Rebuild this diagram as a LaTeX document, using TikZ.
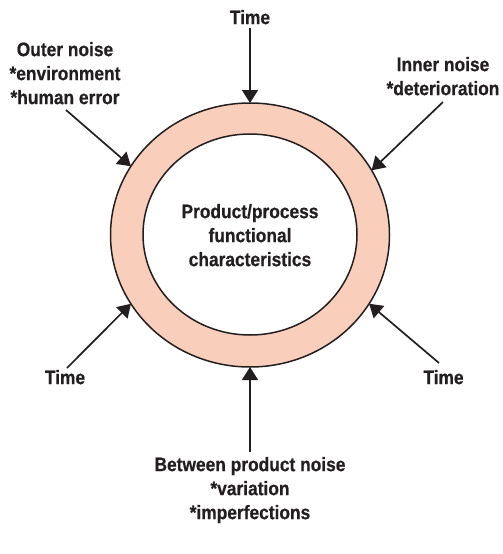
\documentclass[tikz,border=0pt]{standalone}
\usepackage{fontspec}
\setmainfont{Liberation Sans}[FakeStretch=0.89,FakeBold=0.6]
\usetikzlibrary{arrows.meta,shapes.geometric}
\definecolor{ringfill}{HTML}{F9CEBB}
\definecolor{ink}{HTML}{231F20}
\begin{document}
\begin{tikzpicture}[x=1pt,y=-1pt,
  lbl/.style={align=center,inner sep=0pt,outer sep=0pt,anchor=north,text=ink,
    font=\fontsize{19.5}{24}\selectfont\bfseries},
  arr/.style={draw=ink,line width=1.7pt,-{Triangle[length=13pt,width=16pt]}},
  ringline/.style={draw=ink,line width=1.5pt}]
\useasboundingbox (0,0) rectangle (503,554);
\node[ellipse,ringline,fill=ringfill,minimum width=279pt,minimum height=264pt,inner sep=0pt,outer sep=0pt] (outer) at (250,235) {};
\node[ellipse,ringline,fill=white,minimum width=214pt,minimum height=201pt,inner sep=0pt,outer sep=0pt] (inner) at (250,234.5) {};
\node[lbl] (center) at (250,204) {Product/process\\functional\\characteristics};
\node[lbl] (timeT) at (250,10) {Time};
\node[lbl] (outern) at (65,42) {Outer noise\\*environment\\*human error};
\node[lbl] (innern) at (443,57) {Inner noise\\*deterioration};
\node[lbl] (timeL) at (65,370) {Time};
\node[lbl] (timeR) at (443.5,370) {Time};
\node[lbl] (between) at (250,457) {Between product noise\\*variation\\*imperfections};
\coordinate (sTop) at (250,28);
\coordinate (sOL) at (66,110);
\coordinate (sIR) at (443,102);
\coordinate (sLL) at (67,368);
\coordinate (sLR) at (439,363);
\coordinate (sBot) at (250,452);
\draw[arr] (sTop) -- (outer.90);
\draw[arr] (sOL) -- (outer.150);
\draw[arr] (sIR) -- (outer.28.6);
\draw[arr] (sLL) -- (outer.210.8);
\draw[arr] (sLR) -- (outer.330.5);
\draw[arr] (sBot) -- (outer.270);
\end{tikzpicture}
\end{document}
